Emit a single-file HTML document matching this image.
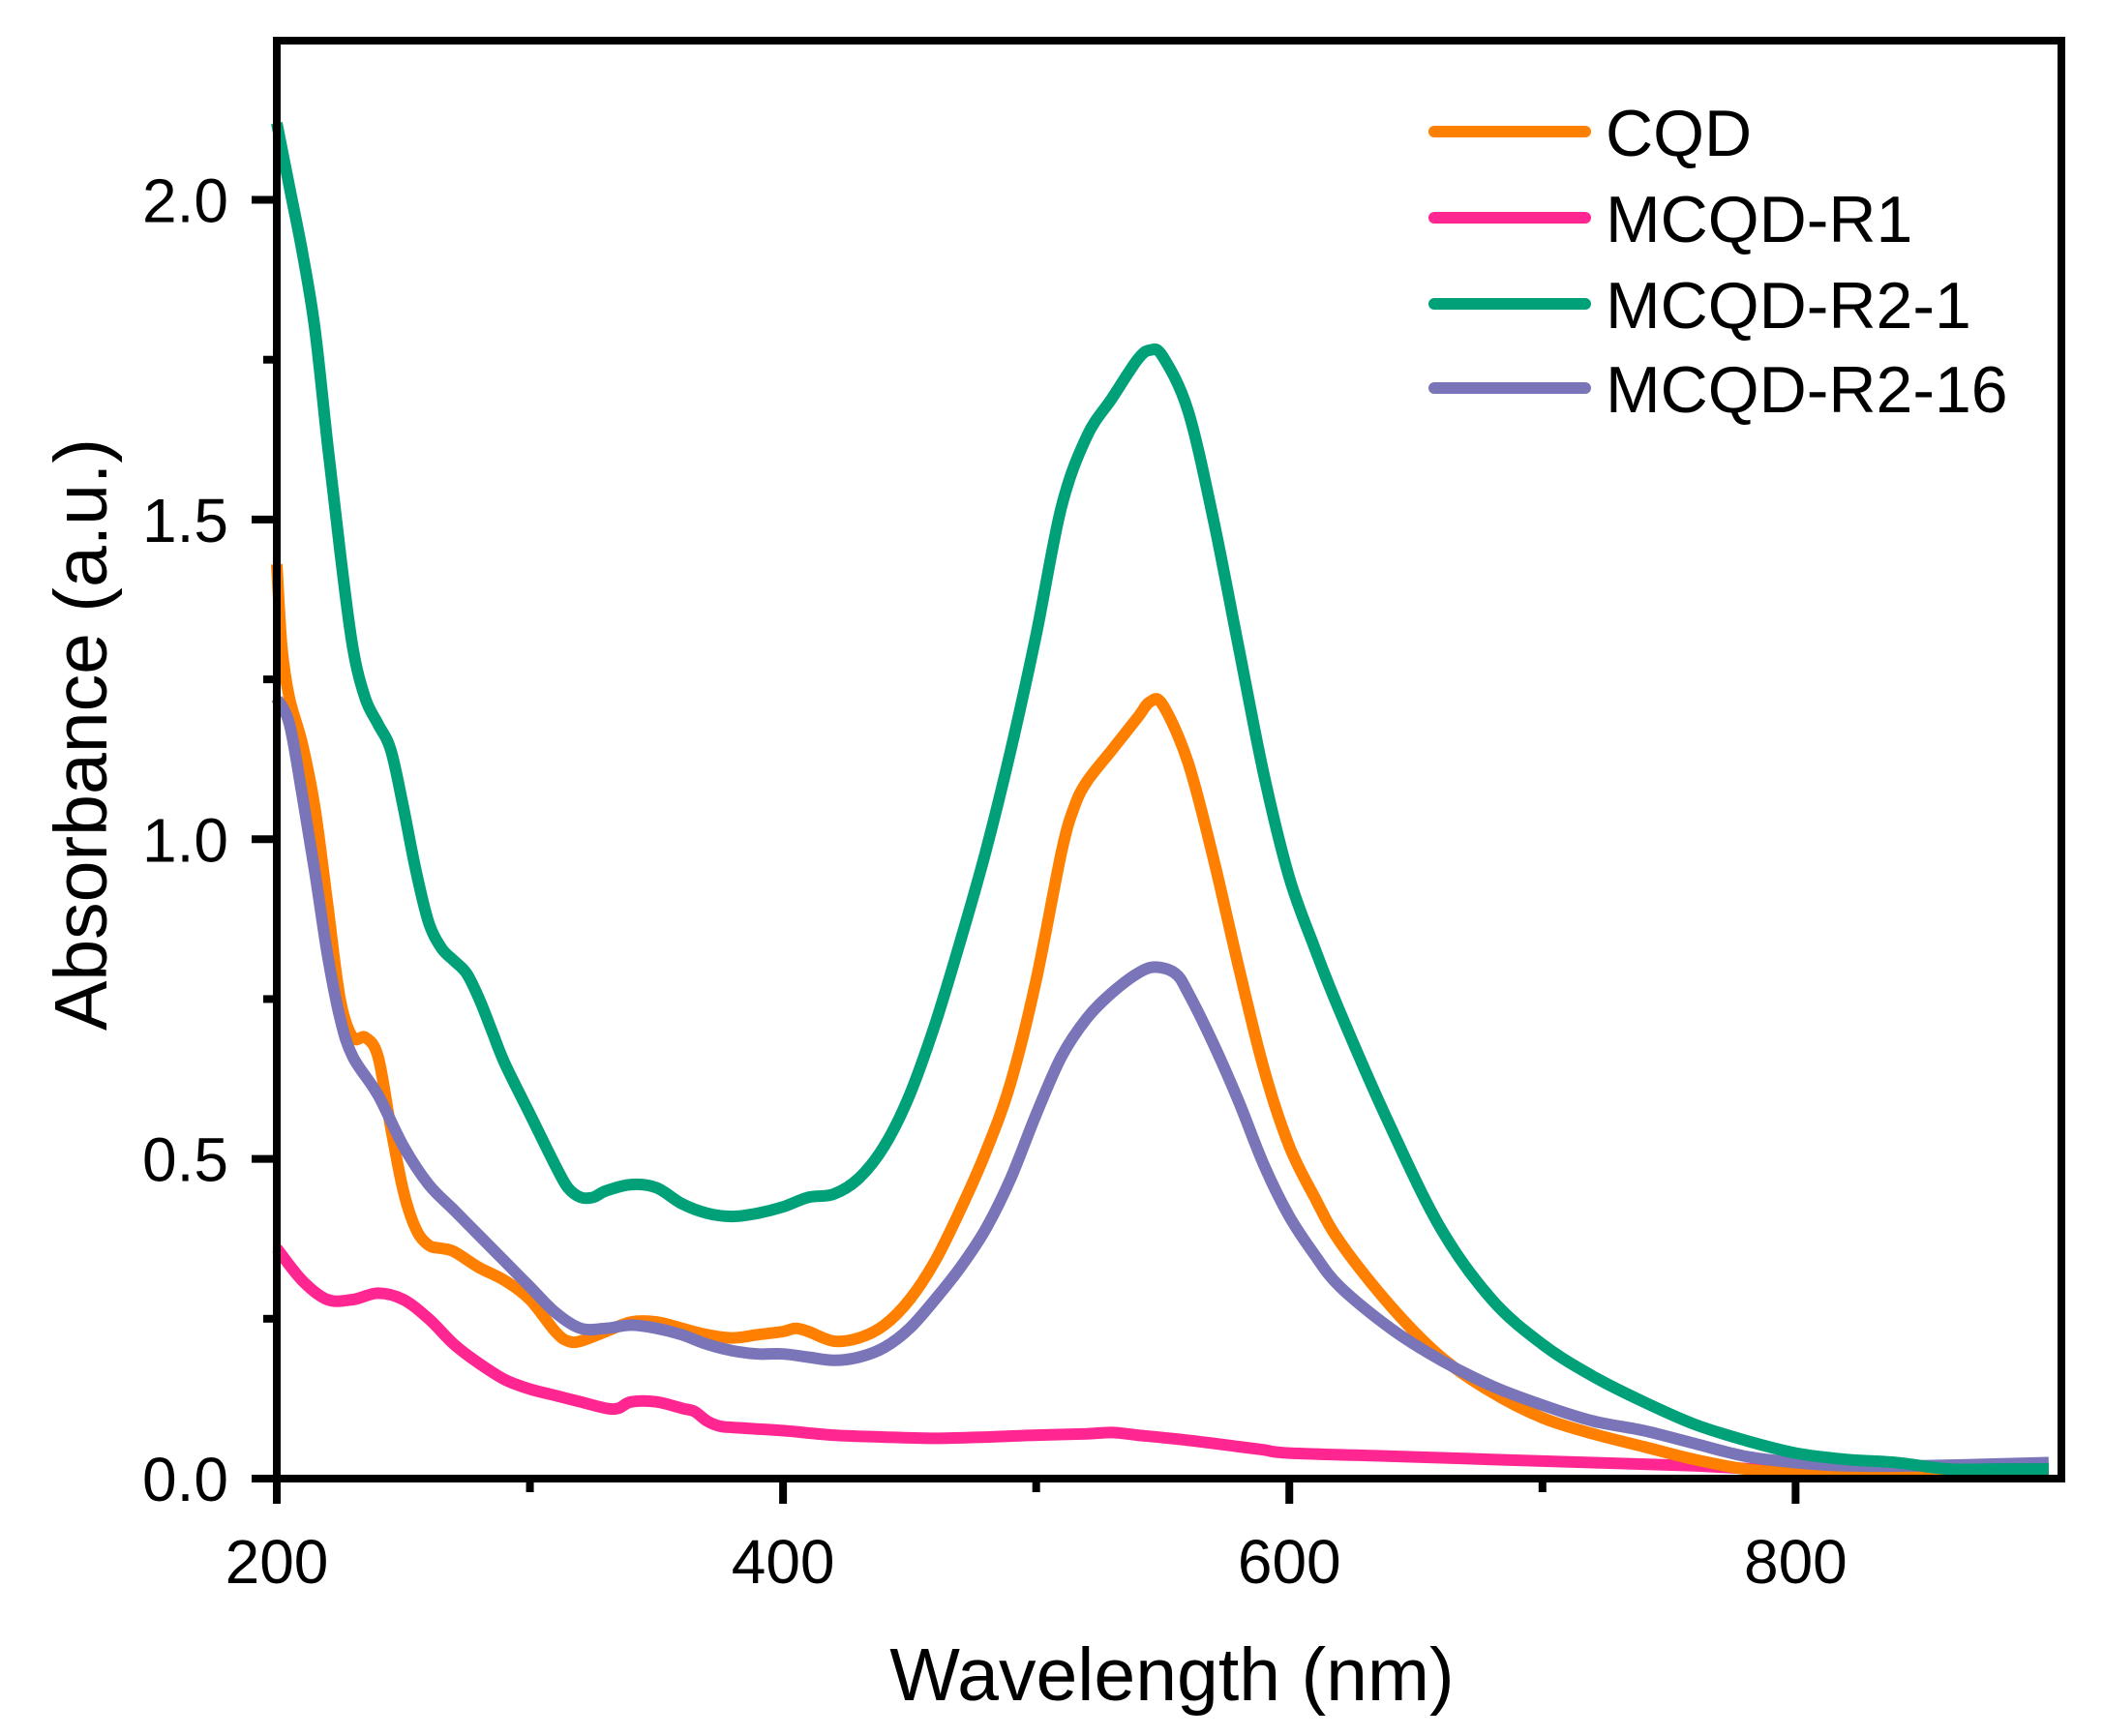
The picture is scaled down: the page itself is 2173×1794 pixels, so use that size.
<!DOCTYPE html>
<html><head><meta charset="utf-8"><style>
html,body{margin:0;padding:0;background:#fff;}
svg{display:block;font-family:"Liberation Sans",Arial,sans-serif;}
</style></head><body>
<svg id="chart" width="2173" height="1794" viewBox="0 0 2173 1794" xmlns="http://www.w3.org/2000/svg">
<g id="plot"></g>
<g id="axes"></g>
<g id="legend"></g>
<text x="1211" y="1757" font-size="77" text-anchor="middle">Wavelength (nm)</text>
<text x="0" y="0" font-size="77" text-anchor="middle" transform="translate(110,759) rotate(-90)">Absorbance (a.u.)</text>
</svg>
<script>
const seriesNames = ["CQD","MCQD-R1","MCQD-R2-1","MCQD-R2-16"];
const seriesColors = ["#ff7f00","#ff2692","#00a078","#7a74b8"];
const xTicks = [200,400,600,800];
const xMinor = [300,500,700];
const yTicks = [0,0.5,1.0,1.5,2.0];
const yTickLabels = ["0.0","0.5","1.0","1.5","2.0"];
const yMinor = [0.25,0.75,1.25,1.75];
const cqdX = [200,202,205,210,215,220,225,230,235,240,245,250,255,260,265,270,280,290,300,310,315,320,330,340,350,360,370,380,390,400,405,410,420,430,440,450,460,470,480,490,500,510,515,520,530,540,545,550,560,570,580,590,600,610,620,640,660,680,700,720,740,760,780,800,820,850,900];
const cqdY = [1.43,1.3,1.22,1.15,1.05,0.9,0.75,0.69,0.69,0.66,0.55,0.45,0.39,0.365,0.36,0.355,0.33,0.31,0.28,0.23,0.215,0.215,0.23,0.245,0.245,0.235,0.225,0.22,0.225,0.23,0.235,0.23,0.215,0.22,0.24,0.28,0.34,0.42,0.51,0.62,0.78,0.98,1.05,1.09,1.14,1.19,1.215,1.21,1.12,0.97,0.8,0.64,0.52,0.44,0.37,0.27,0.19,0.135,0.095,0.07,0.05,0.03,0.015,0.008,0.005,0.005,0.005];
const r1X = [200,210,220,230,240,250,260,270,280,290,300,310,320,330,335,340,350,360,365,370,375,380,400,420,440,460,480,500,520,530,540,560,580,590,600,640,680,720,760,800,850,900];
const r1Y = [0.36,0.31,0.28,0.28,0.29,0.28,0.25,0.21,0.18,0.155,0.14,0.13,0.12,0.11,0.11,0.12,0.12,0.11,0.105,0.09,0.082,0.08,0.075,0.068,0.065,0.063,0.065,0.068,0.07,0.072,0.068,0.06,0.05,0.045,0.04,0.035,0.03,0.025,0.02,0.012,0.008,0.005];
const r21X = [200,205,210,215,220,225,230,235,240,245,250,255,260,265,270,275,280,285,290,300,310,315,320,325,330,340,350,360,370,380,390,400,410,420,430,440,450,460,470,480,490,500,510,520,530,540,545,550,560,570,580,590,600,610,620,640,660,680,700,720,740,760,780,800,820,840,860,880,900];
const r21Y = [2.12,2.02,1.92,1.8,1.62,1.45,1.3,1.22,1.18,1.14,1.05,0.95,0.87,0.83,0.81,0.79,0.75,0.7,0.65,0.57,0.49,0.455,0.44,0.44,0.45,0.46,0.455,0.43,0.415,0.41,0.415,0.425,0.44,0.445,0.47,0.52,0.6,0.71,0.84,0.98,1.14,1.32,1.52,1.63,1.69,1.75,1.765,1.755,1.67,1.5,1.3,1.1,0.94,0.83,0.73,0.55,0.39,0.28,0.21,0.16,0.12,0.085,0.06,0.04,0.03,0.025,0.015,0.015,0.015];
const r216X = [200,205,210,215,220,225,230,240,250,260,270,280,290,300,310,320,330,340,350,360,370,380,390,400,410,420,430,440,450,460,470,480,490,500,510,520,530,540,547,555,560,570,580,590,600,610,620,640,660,680,700,720,740,760,780,800,820,850,900];
const r216Y = [1.22,1.18,1.07,0.95,0.82,0.72,0.66,0.6,0.52,0.46,0.42,0.38,0.34,0.3,0.26,0.235,0.235,0.24,0.235,0.225,0.21,0.2,0.195,0.195,0.19,0.185,0.19,0.205,0.235,0.28,0.33,0.39,0.47,0.57,0.66,0.72,0.76,0.79,0.8,0.79,0.76,0.68,0.59,0.49,0.41,0.35,0.3,0.235,0.185,0.145,0.115,0.09,0.075,0.055,0.035,0.025,0.02,0.02,0.025];

const X0=286, X1=2130, Y0=1528, Y1=42, XMIN=200, XMAX=905, YMIN=0, YMAX=2.249;
function sx(v){return X0+(v-XMIN)/(XMAX-XMIN)*(X1-X0);}
function sy(v){return Y0-(v-YMIN)/(YMAX-YMIN)*(Y0-Y1);}
const NS="http://www.w3.org/2000/svg";
function mk(tag,attrs,parent){const e=document.createElementNS(NS,tag);for(const k in attrs)e.setAttribute(k,attrs[k]);parent.appendChild(e);return e;}

function smoothPath(pts){
  let d="M"+pts[0][0].toFixed(1)+","+pts[0][1].toFixed(1);
  for(let i=0;i<pts.length-1;i++){
    const p0=pts[Math.max(0,i-1)],p1=pts[i],p2=pts[i+1],p3=pts[Math.min(pts.length-1,i+2)];
    const c1=[p1[0]+(p2[0]-p0[0])/6,p1[1]+(p2[1]-p0[1])/6];
    const c2=[p2[0]-(p3[0]-p1[0])/6,p2[1]-(p3[1]-p1[1])/6];
    d+="C"+c1[0].toFixed(1)+","+c1[1].toFixed(1)+" "+c2[0].toFixed(1)+","+c2[1].toFixed(1)+" "+p2[0].toFixed(1)+","+p2[1].toFixed(1);
  }
  return d;
}

const plot=document.getElementById('plot');
const allX=[cqdX,r1X,r21X,r216X], allY=[cqdY,r1Y,r21Y,r216Y];
const order=[1,0,3,2];
order.forEach(i=>{
  const xs=allX[i], ys=allY[i];
  const pts=xs.map((x,j)=>[sx(x),sy(ys[j])]);
  const p=mk('path',{d:smoothPath(pts),fill:'none',stroke:seriesColors[i],'stroke-width':12,'stroke-linejoin':'round','stroke-linecap':'butt'},plot);
  
  
});

const axes=document.getElementById('axes');
const frame=mk('rect',{x:X0,y:Y1,width:X1-X0,height:Y0-Y1,fill:'none',stroke:'#000','stroke-width':8},axes);


xTicks.forEach(v=>{
  const t=mk('line',{x1:sx(v),x2:sx(v),y1:Y0,y2:Y0+26,stroke:'#000','stroke-width':8},axes);
  
  
  const l=mk('text',{x:sx(v),y:1636,'font-size':64,'text-anchor':'middle'},axes);
  l.textContent=v;
  
  
});
xMinor.forEach(v=>{
  const t=mk('line',{x1:sx(v),x2:sx(v),y1:Y0,y2:Y0+14,stroke:'#000','stroke-width':8},axes);
  
  
});
yTicks.forEach((v,i)=>{
  const t=mk('line',{x1:X0-26,x2:X0,y1:sy(v),y2:sy(v),stroke:'#000','stroke-width':8},axes);
  
  
  const l=mk('text',{x:236,y:sy(v)+23,'font-size':64,'text-anchor':'end'},axes);
  l.textContent=yTickLabels[i];
  
  
});
yMinor.forEach(v=>{
  const t=mk('line',{x1:X0-14,x2:X0,y1:sy(v),y2:sy(v),stroke:'#000','stroke-width':8},axes);
  
  
});

const legend=document.getElementById('legend');
const legY=[136,225,314,401];
seriesNames.forEach((n,i)=>{
  const g=mk('g',{},legend);
  
  
  const ln=mk('line',{x1:1482,x2:1638,y1:legY[i],y2:legY[i],stroke:seriesColors[i],'stroke-width':12,'stroke-linecap':'round'},g);
  
  
  const tx=mk('text',{x:1659,y:legY[i]+25,'font-size':68},g);
  tx.textContent=n;
  
  
});
</script>
</body></html>
